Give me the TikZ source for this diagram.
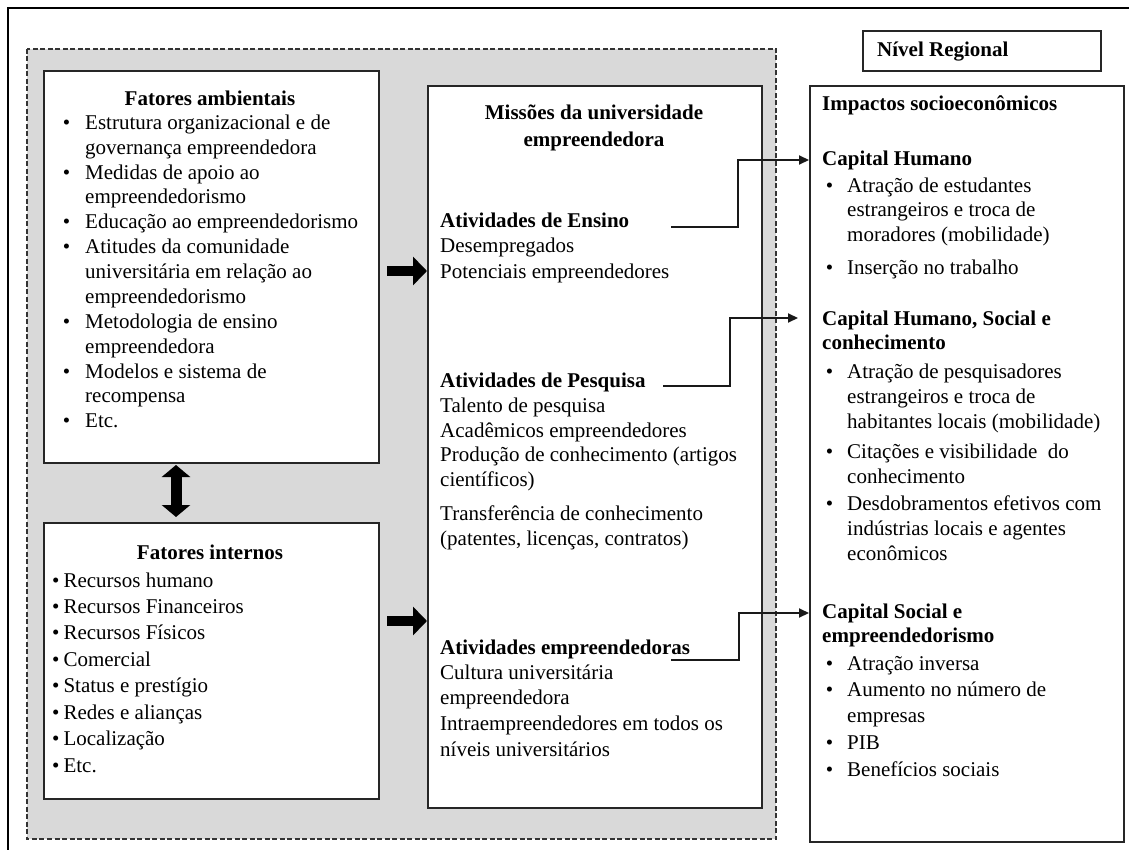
\documentclass[tikz,border=0pt]{standalone}
\usepackage{fontspec}
\setmainfont{Liberation Serif}
\usetikzlibrary{arrows.meta}
\newcommand\bulA{\llap{•\hspace{15pt}}}
\newcommand\bulC{\llap{•\hspace{14pt}}}
\tikzset{
  box/.style={draw=black!85, line width=2.4pt, fill=white},
  txt/.style={inner sep=0pt, anchor=base west, font=\fontsize{21}{24}\selectfont},
  btxt/.style={txt, font=\fontsize{21}{24}\selectfont\bfseries},
  ctitle/.style={inner sep=0pt, anchor=base, font=\fontsize{21}{24}\selectfont\bfseries},
  conn/.style={draw=black!90, line width=2pt, -{Triangle[length=10pt,width=9pt]}},
  block/.style={draw=black, line width=10pt, -{Triangle[length=14pt,width=28pt]}},
}
\begin{document}
\begin{tikzpicture}[x=1pt,y=-1pt]
\useasboundingbox (0,0) rectangle (1129,850);
% outer frame
\draw[line width=2pt] (8,850) -- (8,8) -- (1129,8);
% dashed grey region
\draw[fill=black!15, draw=black!80, line width=1.6pt, dash pattern=on 5pt off 2.5pt] (27,49) rectangle (776,839);
% boxes
\node[box, minimum width=335pt, minimum height=392pt, anchor=north west, inner sep=0pt] (amb) at (43,70) {};
\node[box, minimum width=335pt, minimum height=276pt, anchor=north west, inner sep=0pt] (int) at (43,522) {};
\node[box, minimum width=334pt, minimum height=722pt, anchor=north west, inner sep=0pt] (mis) at (427,85) {};
\node[box, minimum width=238pt, minimum height=40pt, anchor=north west, inner sep=0pt] (niv) at (862,30) {};
\node[box, minimum width=314pt, minimum height=756pt, anchor=north west, inner sep=0pt] (imp) at (809,85) {};

% Fatores ambientais
\node[ctitle] (amb-t) at (210,106) {Fatores ambientais};
\foreach \n/\y/\t in {1/130/{\bulA Estrutura organizacional e de},
  2/155/{governança empreendedora},
  3/180/{\bulA Medidas de apoio ao},
  4/204/{empreendedorismo},
  5/229/{\bulA Educação ao empreendedorismo},
  6/254/{\bulA Atitudes da comunidade},
  7/278/{universitária em relação ao},
  8/303/{empreendedorismo},
  9/328/{\bulA Metodologia de ensino},
  10/353/{empreendedora},
  11/378/{\bulA Modelos e sistema de},
  12/402/{recompensa},
  13/427/{\bulA Etc.}}
  {\node[txt] (amb-\n) at (85,\y) {\t};}

% Fatores internos
\node[ctitle] (int-t) at (210,559) {Fatores internos};
\foreach \n/\y/\t in {1/587/{Recursos humano},
  2/613/{Recursos Financeiros},
  3/639/{Recursos Físicos},
  4/666/{Comercial},
  5/692/{Status e prestígio},
  6/719/{Redes e alianças},
  7/745/{Localização},
  8/772/{Etc.}}
  {\node[txt] (int-\n) at (52,\y) {•\hspace{4pt}\t};}

% Missoes
\node[ctitle] (mis-t1) at (594,120) {Missões da universidade};
\node[ctitle] (mis-t2) at (594,147) {empreendedora};
\node[btxt] (ens) at (440,228) {Atividades de Ensino};
\node[txt] (ens-1) at (440,253) {Desempregados};
\node[txt] (ens-2) at (440,278) {Potenciais empreendedores};
\node[btxt] (pes) at (440,387) {Atividades de Pesquisa};
\foreach \n/\y/\t in {1/412/{Talento de pesquisa},
  2/437/{Acadêmicos empreendedores},
  3/461/{Produção de conhecimento (artigos},
  4/486/{científicos)},
  5/520/{Transferência de conhecimento},
  6/545/{(patentes, licenças, contratos)}}
  {\node[txt] (pes-\n) at (440,\y) {\t};}
\node[btxt] (emp) at (440,654) {Atividades empreendedoras};
\foreach \n/\y/\t in {1/679/{Cultura universitária},
  2/704/{empreendedora},
  3/730/{Intraempreendedores em todos os},
  4/756/{níveis universitários}}
  {\node[txt] (emp-\n) at (440,\y) {\t};}

% Nivel regional
\node[btxt] (niv-t) at (877,57) {Nível Regional};

% Impactos
\node[btxt] (imp-t) at (822,111) {Impactos socioeconômicos};
\node[btxt] (ch) at (822,166) {Capital Humano};
\foreach \n/\y/\t in {1/193/{\bulC Atração de estudantes},
  2/217/{estrangeiros e troca de},
  3/242/{moradores (mobilidade)},
  4/275/{\bulC Inserção no trabalho}}
  {\node[txt] (ch-\n) at (847,\y) {\t};}
\node[btxt] (chs) at (822,325) {Capital Humano, Social e};
\node[btxt] (chs-b) at (822,349) {conhecimento};
\foreach \n/\y/\t in {1/378/{\bulC Atração de pesquisadores},
  2/403/{estrangeiros e troca de},
  3/428/{habitantes locais (mobilidade)},
  4/458/{\bulC Citações e visibilidade\ \ do},
  5/483/{conhecimento},
  6/510/{\bulC Desdobramentos efetivos com},
  7/535/{indústrias locais e agentes},
  8/560/{econômicos}}
  {\node[txt] (chs-\n) at (847,\y) {\t};}
\node[btxt] (cs) at (822,618) {Capital Social e};
\node[btxt] (cs-b) at (822,642) {empreendedorismo};
\foreach \n/\y/\t in {1/670/{\bulC Atração inversa},
  2/696/{\bulC Aumento no número de},
  3/722/{empresas},
  4/749/{\bulC PIB},
  5/776/{\bulC Benefícios sociais}}
  {\node[txt] (cs-\n) at (847,\y) {\t};}

% connectors
\coordinate (c1) at (671,227);
\coordinate (c2) at (663,386);
\coordinate (c3) at (671,660);
\draw[conn] (c1) -| (738,160) -- (imp.west |- 0,160);
\draw[conn] (c2) -| (730,318) -- (798,318);
\draw[conn] (c3) -| (739,613) -- (imp.west |- 0,613);

% block arrows
\coordinate (ba1) at (387,271);
\coordinate (ba2) at (387,621);
\draw[block] (ba1) -- (mis.west |- ba1);
\draw[block] (ba2) -- (mis.west |- ba2);
\coordinate (bv1) at (176,465);
\coordinate (bv2) at (176,517);
\draw[line width=11pt, {Triangle[length=12pt,width=28pt]}-{Triangle[length=12pt,width=28pt]}] (bv1) -- (bv2);
\end{tikzpicture}
\end{document}
